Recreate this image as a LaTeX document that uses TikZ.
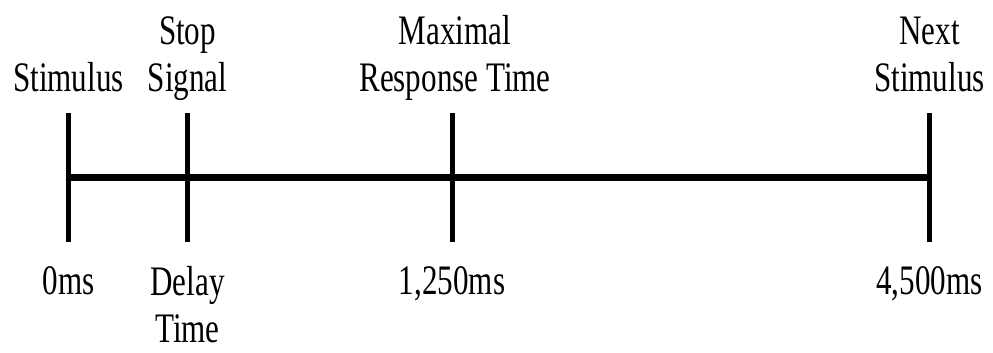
\documentclass[tikz,border=0pt]{standalone}
\usepackage{fontspec}
\setmainfont{Liberation Serif}[FakeStretch=0.74]
\usetikzlibrary{positioning}

\begin{document}
\begin{tikzpicture}[
  x=1pt,y=1pt,
  axis/.style={line width=7pt},
  tick/.style={line width=5pt},
  lbl/.style={align=center,inner sep=0pt,anchor=base,
              font=\fontsize{42}{47}\selectfont}
]
\useasboundingbox (0,0) rectangle (993,353);

% points on the time line
\coordinate (t0)    at (68.5,175);
\coordinate (tstop) at (187.5,175);
\coordinate (tmax)  at (452,175);
\coordinate (tnext) at (929.5,175);

\draw[axis] (t0) -- (tnext);
\draw[tick] ([yshift=65]t0)    -- ([yshift=-64]t0);
\draw[tick] ([yshift=65]tstop) -- ([yshift=-64]tstop);
\draw[tick] ([yshift=65]tmax)  -- ([yshift=-64]tmax);
\draw[tick] ([yshift=65]tnext) -- ([yshift=-64]tnext);

% events above
\node[lbl] (stim)  at ([yshift=86]t0)    {Stimulus};
\node[lbl] (stop)  at ([yshift=86]tstop) {Stop\\Signal};
\node[lbl] (max)   at ([xshift=3,yshift=86]tmax) {Maximal\\Response Time};
\node[lbl] (next)  at ([yshift=86]tnext) {Next\\Stimulus};

% times below
\node[lbl] (zero)  at ([yshift=-117]t0)    {0ms};
\node[lbl] (delay) at ([yshift=-165]tstop) {Delay\\Time};
\node[lbl] (mrt)   at ([yshift=-117]tmax)  {1,250ms};
\node[lbl] (end)   at ([yshift=-117]tnext) {4,500ms};
\end{tikzpicture}
\end{document}
